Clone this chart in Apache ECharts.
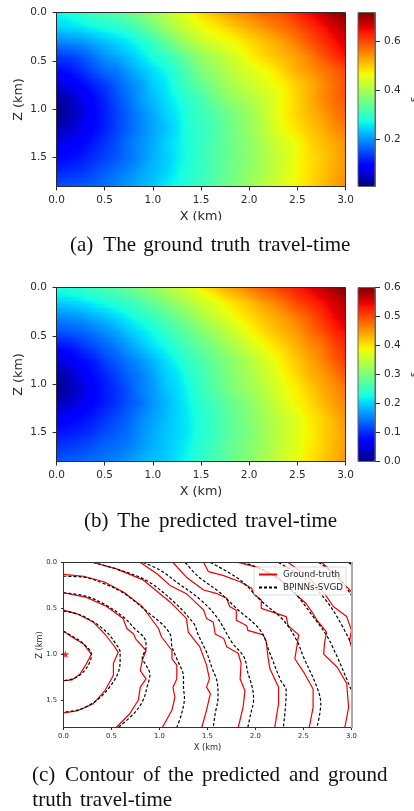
<!DOCTYPE html>
<html><head><meta charset="utf-8">
<style>html,body{margin:0;padding:0;background:#fff}#c{width:414px;height:811px;filter:blur(.4px)}</style>
<script src="https://cdn.jsdelivr.net/npm/echarts@6/dist/echarts.min.js"></script>
</head><body><div id="c"></div>
<script>
// Travel-time values (s), on a regular km grid.
var xKm = [0,.125,.25,.375,.5,.625,.75,.875,1,1.125,1.25,1.375,1.5,1.625,1.75,1.875,2,2.125,2.25,2.375,2.5,2.625,2.75,2.875,3];
var zKm = [0,.15,.3,.45,.6,.75,.9,1.05,1.2,1.35,1.5,1.65,1.8];
var xTicks = [0,.5,1,1.5,2,2.5,3];
var zTicks = [0,.5,1,1.5];
var truthTicks = [.2,.4,.6];
var predTicks = [0,.1,.2,.3,.4,.5,.6];
var truthRange = [.005,.72];
var predRange = [0,.6];

var truthRows = [
[.27,.28,.29,.31,.32,.33,.35,.37,.39,.41,.44,.46,.49,.51,.53,.55,.56,.58,.59,.60,.63,.65,.67,.70,.72],
[.245,.25,.26,.27,.28,.29,.30,.33,.36,.39,.415,.44,.46,.475,.49,.51,.525,.54,.56,.575,.595,.62,.64,.665,.69],
[.19,.195,.20,.215,.23,.245,.26,.28,.305,.34,.375,.40,.43,.445,.46,.47,.49,.505,.52,.54,.565,.59,.615,.64,.665],
[.135,.14,.155,.175,.20,.215,.235,.255,.28,.30,.325,.355,.385,.405,.425,.445,.47,.49,.505,.52,.535,.56,.59,.615,.645],
[.10,.105,.125,.15,.17,.18,.205,.23,.25,.27,.295,.33,.365,.385,.405,.43,.445,.46,.475,.50,.525,.54,.56,.58,.60],
[.06,.075,.095,.115,.135,.16,.185,.205,.24,.255,.29,.315,.34,.365,.39,.41,.43,.445,.46,.475,.50,.52,.545,.57,.595],
[.025,.04,.07,.095,.12,.15,.175,.205,.225,.25,.27,.295,.315,.345,.37,.39,.405,.425,.445,.47,.495,.52,.55,.57,.59],
[.012,.035,.058,.09,.115,.14,.165,.19,.215,.24,.26,.285,.305,.325,.345,.365,.39,.415,.445,.475,.495,.515,.535,.56,.58],
[.04,.05,.075,.095,.115,.14,.165,.19,.21,.23,.255,.285,.30,.315,.34,.365,.385,.41,.44,.465,.485,.505,.52,.545,.56],
[.07,.08,.09,.11,.13,.15,.175,.195,.215,.24,.26,.28,.30,.32,.34,.36,.38,.40,.425,.445,.465,.49,.51,.525,.545],
[.095,.10,.11,.125,.14,.155,.175,.195,.22,.235,.26,.28,.30,.32,.34,.36,.375,.40,.42,.44,.465,.485,.50,.52,.54],
[.12,.125,.13,.145,.16,.175,.19,.21,.225,.24,.265,.285,.30,.32,.34,.36,.38,.40,.42,.445,.465,.485,.505,.525,.545],
[.15,.155,.16,.165,.175,.19,.205,.22,.235,.26,.275,.29,.31,.33,.35,.37,.39,.41,.43,.45,.47,.49,.51,.53,.55]
];
var predRows = [
[.235,.24,.245,.255,.265,.275,.29,.305,.32,.335,.35,.37,.395,.415,.435,.45,.47,.485,.50,.515,.53,.545,.565,.585,.60],
[.20,.203,.21,.22,.23,.24,.25,.27,.285,.305,.325,.34,.36,.375,.395,.41,.425,.445,.46,.48,.505,.52,.535,.555,.575],
[.155,.16,.165,.18,.19,.205,.22,.235,.25,.27,.29,.31,.335,.355,.37,.39,.405,.42,.435,.45,.47,.49,.515,.54,.56],
[.125,.13,.135,.145,.16,.175,.195,.21,.225,.245,.265,.285,.305,.325,.345,.365,.385,.405,.42,.435,.45,.475,.495,.52,.54],
[.085,.09,.105,.12,.135,.15,.17,.19,.21,.225,.245,.265,.285,.30,.325,.34,.365,.38,.40,.415,.435,.455,.47,.50,.52],
[.05,.06,.08,.09,.115,.13,.15,.165,.185,.205,.225,.245,.265,.285,.30,.32,.34,.36,.38,.40,.42,.44,.46,.485,.51],
[.02,.035,.06,.08,.095,.115,.135,.15,.17,.195,.21,.235,.255,.275,.295,.315,.33,.35,.37,.39,.41,.43,.445,.465,.49],
[.01,.025,.045,.07,.09,.105,.125,.15,.165,.19,.205,.225,.25,.27,.29,.31,.325,.34,.36,.38,.395,.415,.435,.45,.47],
[.035,.04,.06,.075,.09,.105,.125,.14,.165,.18,.20,.22,.24,.255,.275,.29,.31,.33,.35,.37,.39,.405,.425,.445,.46],
[.065,.07,.08,.09,.105,.12,.135,.155,.17,.185,.20,.215,.235,.25,.27,.29,.305,.325,.34,.36,.37,.395,.41,.43,.45],
[.085,.09,.095,.105,.12,.13,.14,.16,.175,.19,.20,.215,.235,.25,.27,.285,.30,.32,.34,.355,.375,.39,.41,.425,.445],
[.105,.11,.115,.125,.135,.14,.15,.165,.18,.19,.205,.22,.24,.255,.275,.29,.305,.32,.34,.36,.375,.395,.41,.43,.445],
[.125,.13,.135,.14,.145,.155,.165,.18,.19,.195,.21,.225,.245,.26,.275,.295,.31,.33,.345,.365,.38,.40,.415,.43,.45]
];

// Contours, [x km, z km].
var truthContours = [
[[0,.75],[.10,.82],[.21,.89],[.29,1.0],[.23,1.12],[.17,1.22],[.09,1.28],[0,1.29]],
[[0,.52],[.14,.56],[.31,.65],[.43,.78],[.52,.90],[.57,.98],[.52,1.10],[.52,1.23],[.43,1.40],[.31,1.54],[.14,1.62],[0,1.64]],
[[0,.33],[.24,.38],[.45,.48],[.62,.61],[.66,.72],[.73,.78],[.75,.83],[.86,.96],[.82,1.07],[.80,1.18],[.86,1.27],[.80,1.36],[.78,1.50],[.69,1.65],[.55,1.80]],
[[0,.13],[.21,.15],[.42,.21],[.62,.32],[.82,.48],[.99,.72],[1.02,.81],[1.13,.96],[1.13,1.05],[1.18,1.12],[1.18,1.27],[1.14,1.36],[1.16,1.47],[1.13,1.61],[1.03,1.80]],
[[.31,0],[.55,.07],[.83,.19],[1.11,.43],[1.28,.61],[1.30,.76],[1.42,.92],[1.49,1.12],[1.52,1.27],[1.49,1.36],[1.53,1.43],[1.49,1.61],[1.44,1.80]],
[[.80,0],[.97,.12],[1.11,.25],[1.28,.34],[1.46,.52],[1.49,.61],[1.56,.65],[1.58,.78],[1.67,.83],[1.70,.92],[1.82,.99],[1.85,1.10],[1.84,1.27],[1.89,1.40],[1.87,1.58],[1.82,1.80]],
[[1.14,0],[1.28,.16],[1.46,.30],[1.60,.34],[1.70,.39],[1.73,.48],[1.80,.52],[1.80,.63],[1.91,.69],[1.92,.74],[2.08,.79],[2.11,.85],[2.13,1.03],[2.15,1.16],[2.24,1.36],[2.24,1.54],[2.20,1.80]],
[[1.46,0],[1.51,.10],[1.66,.14],[1.84,.21],[1.96,.28],[1.98,.34],[2.06,.41],[2.06,.50],[2.32,.59],[2.34,.69],[2.45,.79],[2.43,.92],[2.41,1.05],[2.51,1.21],[2.60,1.38],[2.60,1.58],[2.56,1.80]],
[[1.82,0],[2.01,.05],[2.24,.17],[2.39,.32],[2.53,.45],[2.60,.56],[2.64,.63],[2.74,.76],[2.72,.87],[2.71,1.0],[2.85,1.14],[2.95,1.32],[2.97,1.58],[2.93,1.80]],
[[2.34,0],[2.53,.14],[2.72,.34],[2.81,.48],[2.95,.59],[3.0,.74],[2.98,.85],[3.0,.92]],
[[2.69,0],[2.84,.14],[3.0,.32]],
[[2.97,0],[3.0,.02]]
];
var predContours = [
[[0,.75],[.10,.81],[.20,.88],[.29,1.0],[.28,1.07],[.22,1.18],[.12,1.26],[0,1.29]],
[[0,.53],[.14,.56],[.30,.64],[.45,.76],[.54,.88],[.59,.98],[.59,1.06],[.57,1.20],[.48,1.36],[.35,1.50],[.18,1.60],[0,1.63]],
[[0,.33],[.24,.37],[.45,.47],[.63,.60],[.74,.72],[.85,.84],[.86,.93],[.82,1.04],[.86,1.12],[.90,1.22],[.87,1.36],[.83,1.50],[.74,1.64],[.57,1.80]],
[[0,.15],[.21,.16],[.42,.23],[.62,.33],[.83,.50],[1.11,.78],[1.13,.92],[1.18,1.05],[1.25,1.25],[1.25,1.36],[1.26,1.47],[1.23,1.65],[1.18,1.80]],
[[.31,0],[.58,.08],[.87,.20],[1.14,.42],[1.36,.67],[1.40,.78],[1.49,.98],[1.55,1.16],[1.60,1.30],[1.61,1.47],[1.58,1.65],[1.56,1.80]],
[[.83,0],[1.0,.08],[1.2,.23],[1.42,.40],[1.60,.60],[1.76,.88],[1.88,1.03],[1.92,1.2],[1.97,1.38],[1.98,1.5],[1.95,1.65],[1.92,1.80]],
[[1.27,0],[1.40,.15],[1.62,.32],[1.80,.50],[2.05,.74],[2.15,.99],[2.26,1.28],[2.32,1.40],[2.31,1.6],[2.29,1.80]],
[[1.53,0],[1.84,.19],[2.05,.41],[2.29,.63],[2.43,.85],[2.50,1.03],[2.64,1.36],[2.68,1.54],[2.64,1.80]],
[[1.87,0],[2.08,.08],[2.36,.28],[2.60,.59],[2.77,.85],[3.0,1.40]],
[[2.24,0],[2.53,.19],[2.71,.38],[2.86,.61],[3.0,.89]],
[[2.66,0],[2.86,.16],[3.0,.36]],
[[2.97,0],[3.0,.02]]
];
var sourcePoint = [[.02,1.0]];

var INK = '#2b2b2b', SANS = 'DejaVu Sans', SERIF = 'Liberation Serif';

// matplotlib "jet" colour map (colour scale only, not data)
function seg(t, pts){
  for (var i = 1; i < pts.length; i++) if (t <= pts[i][0]) {
    var a = pts[i-1], b = pts[i];
    return a[1] + (b[1]-a[1]) * (t-a[0]) / (b[0]-a[0]);
  }
  return pts[pts.length-1][1];
}
function jet(t){
  t = Math.max(0, Math.min(1, t));
  var r = seg(t, [[0,0],[.35,0],[.66,1],[.89,1],[1,.5]]);
  var g = seg(t, [[0,0],[.125,0],[.375,1],[.64,1],[.91,0],[1,0]]);
  var b = seg(t, [[0,.5],[.11,1],[.34,1],[.65,0],[1,0]]);
  return 'rgb(' + Math.round(r*255) + ',' + Math.round(g*255) + ',' + Math.round(b*255) + ')';
}
var JET = [];
for (var q = 0; q <= 64; q++) JET.push(jet(q/64));

// one record per grid cell: its corners and their four read values
function cells(rows){
  var out = [];
  for (var j = 0; j < zKm.length-1; j++) for (var i = 0; i < xKm.length-1; i++)
    out.push([xKm[i], zKm[j], xKm[i+1], zKm[j+1], rows[j][i], rows[j][i+1], rows[j+1][i], rows[j+1][i+1]]);
  return out;
}
// renders each cell with smooth (gouraud-style) shading, as the source image does
function shaded(range){
  var STEPS = 6;
  return function(params, api){
    var x0 = api.value(0), z0 = api.value(1), x1 = api.value(2), z1 = api.value(3);
    var a = api.value(4), b = api.value(5), c = api.value(6), d = api.value(7);
    var p0 = api.coord([x0, z0]), p1 = api.coord([x1, z1]);
    var kids = [];
    for (var m = 0; m < STEPS; m++) for (var n = 0; n < STEPS; n++) {
      var u = (n+.5)/STEPS, w = (m+.5)/STEPS;
      var v = (a*(1-u)+b*u)*(1-w) + (c*(1-u)+d*u)*w;
      var l = Math.round(p0[0] + (p1[0]-p0[0])*n/STEPS), r = Math.round(p0[0] + (p1[0]-p0[0])*(n+1)/STEPS);
      var t = Math.round(p0[1] + (p1[1]-p0[1])*m/STEPS), o = Math.round(p0[1] + (p1[1]-p0[1])*(m+1)/STEPS);
      kids.push({type:'rect', shape:{x:l, y:t, width:r-l, height:o-t}, style:{fill:jet((v-range[0])/(range[1]-range[0]))}, silent:true});
    }
    return {type:'group', children:kids};
  };
}

var grids = [
  {left:56.5, top:12.5, width:289, height:174, outerBoundsMode:'none'},
  {left:56.5, top:287.5, width:289, height:174, outerBoundsMode:'none'},
  {left:63.5, top:562.5, width:288, height:165, outerBoundsMode:'none'},
  {left:358, top:12.5, width:17, height:174, outerBoundsMode:'none'},
  {left:358, top:287.5, width:17, height:174, outerBoundsMode:'none'}
];
function mainX(gi, fs, nfs, gap, tick, margin){
  return {type:'value', gridIndex:gi, min:0, max:3, position:'bottom', name:'X (km)', nameLocation:'middle', nameGap:gap, nameMoveOverlap:false,
    nameTextStyle:{fontFamily:SANS, fontSize:nfs, color:INK},
    axisLine:{show:true, onZero:false, lineStyle:{color:INK, width:1}}, splitLine:{show:false},
    axisTick:{show:true, inside:false, length:tick, lineStyle:{color:INK, width:1}, customValues:xTicks},
    axisLabel:{fontFamily:SANS, fontSize:fs, color:INK, margin:margin, customValues:xTicks, formatter:function(v){return v.toFixed(1);}}};
}
function mainY(gi, fs, nfs, gap, tick, margin){
  return {type:'value', gridIndex:gi, min:0, max:1.8, inverse:true, position:'left', name:'Z (km)', nameLocation:'middle', nameGap:gap, nameMoveOverlap:false,
    nameTextStyle:{fontFamily:SANS, fontSize:nfs, color:INK},
    axisLine:{show:true, onZero:false, lineStyle:{color:INK, width:1}}, splitLine:{show:false},
    axisTick:{show:true, inside:false, length:tick, lineStyle:{color:INK, width:1}, customValues:zTicks},
    axisLabel:{fontFamily:SANS, fontSize:fs, color:INK, margin:margin, customValues:zTicks, formatter:function(v){return v.toFixed(1);}}};
}
function barX(gi){ return {type:'value', gridIndex:gi, min:0, max:1, show:false}; }
function barY(gi, range, ticks){
  return {type:'value', gridIndex:gi, min:range[0], max:range[1], position:'right', name:'s', nameLocation:'middle', nameGap:34, nameRotate:90, nameMoveOverlap:false,
    nameTextStyle:{fontFamily:SANS, fontSize:10, color:INK},
    axisLine:{show:true, onZero:false, lineStyle:{color:'#666', width:1}}, splitLine:{show:false},
    axisTick:{show:true, inside:false, length:5, lineStyle:{color:INK, width:1}, customValues:ticks},
    axisLabel:{fontFamily:SANS, fontSize:10.5, color:INK, margin:9, align:'left', customValues:ticks, formatter:function(v){return v.toFixed(1);}}};
}
function heat(axis, rows, range){
  return {type:'custom', xAxisIndex:axis, yAxisIndex:axis, data:cells(rows), encode:{x:[0,2], y:[1,3]}, renderItem:shaded(range),
    silent:true, animation:false, progressive:0, clip:true, z:1};
}
function contourSeries(name, list, color, dash, smooth){
  return list.map(function(pts){
    return {type:'line', name:name, xAxisIndex:2, yAxisIndex:2, data:pts, showSymbol:false, symbol:'none', smooth:smooth, animation:false, clip:true,
      lineStyle:{color:color, width:1.2, type:dash}, itemStyle:{color:color}, silent:true, z:3};
  });
}
function bar(gi, range){
  return {type:'continuous', seriesIndex:gi, dimension:4, min:range[0], max:range[1], show:true, calculable:false, hoverLink:false, realtime:false,
    orient:'vertical', left:grids[3+gi].left, top:grids[3+gi].top, itemWidth:grids[3+gi].width, itemHeight:grids[3+gi].height, padding:0, text:null, showLabel:false,
    inRange:{color:JET}, outOfRange:{color:JET}};
}
function frame(g, stroke, w){
  return {type:'rect', silent:true, z:50, shape:{x:g.left, y:g.top, width:g.width, height:g.height}, style:{fill:null, stroke:stroke, lineWidth:w}};
}
function cap(text, x, y){
  return {type:'text', silent:true, z:60, x:x, y:y, style:{text:text, x:0, y:0, align:'left', verticalAlign:'middle', fill:'#111', font:'21px "Liberation Serif"'}};
}

var series = [heat(0, truthRows, truthRange), heat(1, predRows, predRange)]
  .concat(contourSeries('Ground-truth', truthContours, '#f00000', 'solid', false))
  .concat(contourSeries('BPINNs-SVGD', predContours, '#000000', [3,2], .35));
series.push({type:'scatter', name:'Source', xAxisIndex:2, yAxisIndex:2, data:sourcePoint, clip:false, silent:true, animation:false,
  symbol:'path://M50 0L61 35H98L68 57L79 91L50 70L21 91L32 57L2 35H39Z', symbolSize:8, itemStyle:{color:'#f00000'}, z:4});

var graphics = [
  frame(grids[0], INK, 1), frame(grids[1], INK, 1), frame(grids[2], '#333', 1), frame(grids[3], '#666', 1), frame(grids[4], '#666', 1),
  {type:'line', silent:true, z:51, shape:{x1:352, y1:562, x2:352, y2:728}, style:{stroke:'#aaa', lineWidth:2}},
  {type:'rect', silent:true, z:55, shape:{x:180, y:220.5, width:50, height:8}, style:{fill:'#fff'}},
  cap('(a)', 70, 245.5), cap('The', 103.3, 245.5), cap('ground', 143.3, 245.5), cap('truth', 210.7, 245.5), cap('travel-time', 258.3, 245.5),
  cap('(b)', 84, 521.5), cap('The', 117.3, 521.5), cap('predicted', 159, 521.5), cap('travel-time', 245, 521.5),
  cap('(c)', 32, 775), cap('Contour', 65, 775), cap('of', 143, 775), cap('the', 168, 775),
  cap('predicted', 202, 775), cap('and', 289, 775), cap('ground', 328, 775),
  cap('truth', 32.3, 800), cap('travel-time', 80, 800)
];

var chart = echarts.init(document.getElementById('c'), null, {renderer:'canvas', width:414, height:811});
chart.setOption({
  animation:false, backgroundColor:'#fff', tooltip:{show:false},
  grid:grids,
  xAxis:[mainX(0,10.5,12.8,23.5,4,8), mainX(1,10.5,12.8,23.5,4,8), mainX(2,6.8,8.3,16.5,2.5,5), barX(3), barX(4)],
  yAxis:[mainY(0,10.5,12.8,31,4,9.5), mainY(1,10.5,12.8,31,4,9.5), mainY(2,6.8,8.3,19.5,2.5,6.5), barY(3,truthRange,truthTicks), barY(4,predRange,predTicks)],
  visualMap:[bar(0,truthRange), bar(1,predRange)],
  legend:{show:true, data:['Ground-truth','BPINNs-SVGD'], orient:'vertical', left:254, top:567, itemWidth:18, itemHeight:8, itemGap:4, padding:[3,3,3,4],
    backgroundColor:'rgba(255,255,255,.8)', borderColor:'#ccc', borderWidth:.7, borderRadius:2, selectedMode:false, z:20,
    itemStyle:{opacity:0},
    textStyle:{fontFamily:SANS, fontSize:8.8, color:INK, padding:[0,0,0,1]}},
  series:series,
  graphic:graphics
});
</script></body></html>
